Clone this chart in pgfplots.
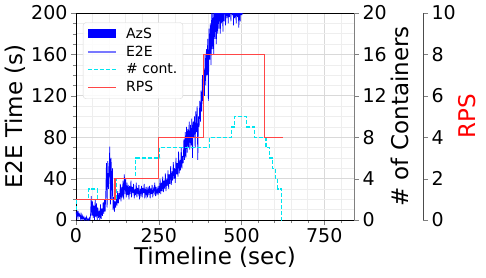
\documentclass[border=0pt]{standalone}
\usepackage{pgfplots}
\pgfplotsset{compat=1.18}
\usepackage{fontspec}
\setmainfont{DejaVu Sans}
\begin{document}
\begin{tikzpicture}
\useasboundingbox (-76pt,-57pt) rectangle (410pt,220pt);
\pgfplotsset{
  common/.style={
    at={(0,0)}, anchor=south west, scale only axis,
    width=278pt, height=207pt, xmin=0, xmax=840,
    tick align=outside,
    major tick length=5pt, minor tick length=3pt,
    /pgf/number format/assume math mode=true,
    ticklabel style={font=\fontsize{19}{19}\selectfont},
  }
}
\definecolor{e2ecol}{RGB}{120,120,255}
\definecolor{contcol}{RGB}{0,230,240}
\definecolor{rpscol}{RGB}{255,70,70}
% ---------- main axis: E2E time ----------
\begin{axis}[common,
  ymin=0, ymax=200,
  xtick={0,250,500,750},
  minor xtick={50,100,150,200,300,350,400,450,550,600,650,700,800},
  ytick={0,40,80,120,160,200},
  minor ytick={10,20,30,50,60,70,90,100,110,130,140,150,170,180,190},
  grid=both,
  major grid style={gray!30, line width=0.7pt},
  minor grid style={gray!13, line width=0.5pt},
  axis x line*=box, axis y line*=left,
  xtick pos=left, ytick pos=left,
  xlabel={Timeline (sec)}, ylabel={E2E Time (s)},
  every axis x label/.style={at={(axis description cs:0.5,-0.18)}, anchor=center, font=\fontsize{23}{23}\selectfont},
  every axis y label/.style={at={(axis description cs:-0.219,0.5)}, rotate=90, anchor=center, font=\fontsize{23}{23}\selectfont},
]
\addplot[blue, line width=0.7pt] coordinates {
(0,8) (2,3) (4,9) (6,2) (8,7) (10,4) (12,6) (14,1) (16,5) (18,0) (20,4) (22,1) (24,3) (26,0) (28,2) (30,0) (32,3) (34,0) (36,1) (38,0)
(40,2) (42,0) (44,5) (46,23) (48,4) (50,18) (52,2) (54,14) (56,0) (58,20) (60,3) (62,16) (64,0) (66,12) (68,2) (70,9) (72,0) (74,15) (76,1) (78,11)
(80,4) (82,17) (84,6) (86,20) (88,8) (90,25) (92,55) (94,12) (96,57) (98,30) (100,45) (102,71) (104,15) (106,60) (108,20) (110,50) (112,10) (114,22) (116,8) (118,18)
(120,12) (122,22) (124,14) (126,28) (128,16) (130,26) (132,20) (134,35) (136,18) (138,32) (140,22) (142,38) (144,20) (146,44) (148,25) (150,40) (152,22) (154,36) (156,24) (158,34)
(160,20) (162,33) (164,25) (166,38) (168,22) (170,32) (172,26) (174,35) (176,21) (178,30) (180,24) (182,36) (184,22) (186,31) (188,26) (190,34) (192,20) (194,30) (196,25) (198,33)
(200,22) (202,31) (204,26) (206,35) (208,21) (210,29) (212,24) (214,32) (216,22) (218,30) (220,26) (222,33) (224,21) (226,31) (228,25) (230,34) (232,22) (234,30) (236,27) (238,36)
(240,23) (242,32) (244,26) (246,30) (248,24) (250,33) (252,26) (254,40) (256,25) (258,36) (260,28) (262,42) (264,27) (266,38) (268,30) (270,45) (272,28) (274,40) (276,33) (278,48)
(280,30) (282,44) (284,35) (286,52) (288,34) (290,47) (292,38) (294,56) (296,40) (298,50) (300,36) (302,60) (304,44) (306,55) (308,42) (310,66) (312,45) (314,58) (316,48) (318,70)
(320,50) (322,62) (324,55) (326,78) (328,58) (330,85) (332,60) (334,90) (336,65) (338,88) (340,70) (342,95) (344,68) (346,92) (348,72) (350,98) (352,60) (354,95) (356,80) (358,100)
(360,70) (362,105) (364,85) (366,110) (368,58) (370,100) (372,90) (374,115) (376,95) (378,125) (380,105) (382,140) (384,115) (386,145) (388,120) (390,160) (392,130) (394,165) (396,140) (398,175)
(400,115) (402,185) (404,155) (406,190) (408,150) (410,200) (412,165) (414,205) (416,160) (418,210) (420,175) (422,205) (424,170) (426,215) (428,180) (430,210) (432,185) (434,220) (436,180) (438,212)
(440,190) (442,220) (444,182) (446,215) (448,192) (450,225) (452,188) (454,218) (456,195) (458,222) (460,190) (462,215) (464,196) (466,225) (468,192) (470,220) (472,198) (474,218) (476,188) (478,225)
(480,195) (482,215) (484,190) (486,212) (488,196) (490,205) (492,186) (494,210) (496,192) (498,208) (500,198) (502,204) (504,200) (506,205)
};
\end{axis}
% ---------- containers axis ----------
\begin{axis}[common,
  ymin=0, ymax=20,
  axis x line=none, axis y line*=right,
  ytick={0,4,8,12,16,20},
  y axis line style={gray},
  ylabel={\# of Containers},
  every axis y label/.style={at={(axis description cs:1.165,0.5)}, rotate=90, anchor=center, font=\fontsize{23}{23}\selectfont},
]
\addplot[contcol, dash pattern=on 4pt off 2pt, line width=1.3pt, const plot] coordinates {
(0,1) (2,2) (38,3) (65,2) (122,4) (180,6) (253,7) (404,8) (469,9) (479,10) (516,9) (539,8) (574,7) (584,6) (594,5) (602,4) (609,3) (620,0) (621,0)
};
\end{axis}
% ---------- RPS axis ----------
\begin{axis}[common,
  ymin=0, ymax=10,
  axis x line=none, axis y line*=right,
  axis y line shift=69pt,
  ytick={0,2,4,6,8,10},
  y axis line style={black!70},
  ylabel={RPS},
  every axis y label/.style={at={(axis description cs:1.406,0.5)}, rotate=90, anchor=center, text=red, font=\fontsize{23}{23}\selectfont},
  legend style={at={(axis description cs:0.025,0.955)}, anchor=north west,
    font=\fontsize{14}{14}\selectfont, draw=gray!30, rounded corners=3pt,
    fill=white, fill opacity=0.85, text opacity=1,
    row sep=3pt, inner xsep=4pt, inner ysep=4pt,
    nodes={inner sep=1.5pt}},
  legend cell align=left,
  /tikz/every odd column/.append style={column sep=8pt},
]
\addlegendimage{legend image code/.code={\fill[blue, draw=none, sharp corners, opacity=1] (0pt,-4pt) rectangle (28pt,5pt);}}
\addlegendentry{AzS}
\addlegendimage{legend image code/.code={\draw[draw=e2ecol, line width=1.5pt, opacity=1] (0pt,0pt) -- (28pt,0pt);}}
\addlegendentry{E2E}
\addlegendimage{legend image code/.code={\draw[draw=contcol, dash pattern=on 4pt off 2pt, line width=1.3pt, opacity=1] (0pt,0pt) -- (28pt,0pt);}}
\addlegendentry{\# cont.}
\addplot[rpscol, line width=1.2pt, const plot,
  legend image code/.code={\draw[draw=rpscol, line width=1.2pt, opacity=1] (0pt,0pt) -- (28pt,0pt);}] coordinates {
(0,1) (118,2) (250,4) (385,8) (570,4) (625,4)
};
\addlegendentry{RPS}
\end{axis}
\end{tikzpicture}
\end{document}
